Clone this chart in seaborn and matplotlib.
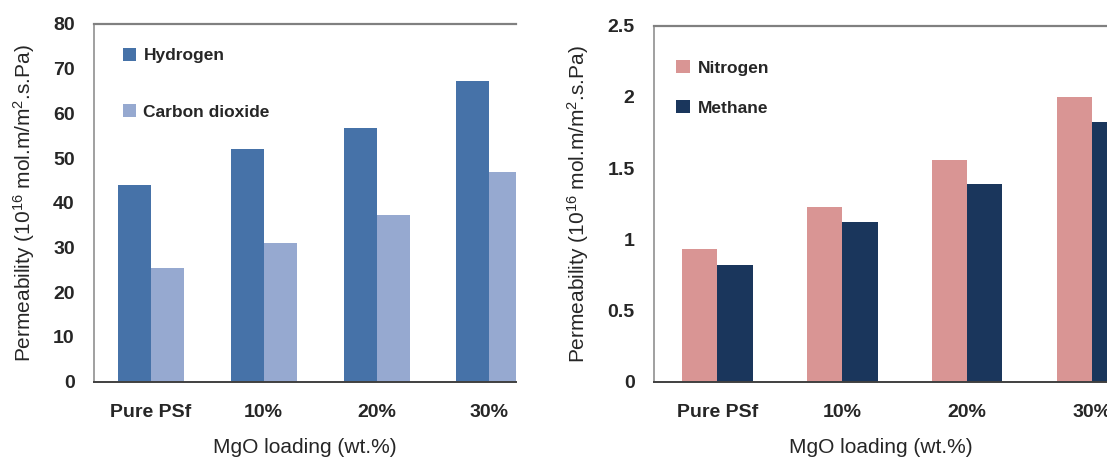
import pandas as pd
import matplotlib
matplotlib.use("Agg")
import matplotlib.pyplot as plt
import seaborn as sns

# data
loadings = ["Pure PSf", "10%", "20%", "30%"]
hydrogen = [44.1, 52.1, 56.7, 67.2]
carbon_dioxide = [25.5, 31.1, 37.3, 47.0]
nitrogen = [0.93, 1.225, 1.555, 2.0]
methane = [0.82, 1.125, 1.39, 1.825]

left_colors = {"Hydrogen": "#4672A8", "Carbon dioxide": "#96A9D0"}
right_colors = {"Nitrogen": "#D99594", "Methane": "#1A365C"}

df_left = pd.DataFrame({
    "loading": loadings * 2,
    "value": hydrogen + carbon_dioxide,
    "gas": ["Hydrogen"] * 4 + ["Carbon dioxide"] * 4,
})
df_right = pd.DataFrame({
    "loading": loadings * 2,
    "value": nitrogen + methane,
    "gas": ["Nitrogen"] * 4 + ["Methane"] * 4,
})

sns.set_style("white")
plt.rcParams["font.family"] = ["Liberation Sans", "DejaVu Sans"]
plt.rcParams["mathtext.fontset"] = "custom"
plt.rcParams["mathtext.rm"] = "Liberation Sans"
plt.rcParams["mathtext.default"] = "regular"

fig = plt.figure(figsize=(11.07, 4.61), dpi=100)
ax1 = fig.add_axes([0.0852, 0.172, 0.3807, 0.776])
ax2 = fig.add_axes([0.5908, 0.172, 0.4092, 0.772])

ylabel = "Permeability (10$^{16}$ mol.m/m$^{2}$.s.Pa)"


def style_axis(ax, ylim, yticks, ticklabels, xlim):
    ax.set_xlim(*xlim)
    ax.set_ylim(*ylim)
    ax.set_yticks(yticks)
    ax.set_yticklabels(ticklabels, fontsize=14, fontweight="bold")
    ax.set_xticks(range(len(loadings)))
    ax.set_xticklabels(loadings, fontsize=14, fontweight="bold")
    ax.tick_params(axis="y", direction="in", length=5, width=1, color="#555555", pad=14)
    ax.tick_params(axis="x", length=0, pad=16)
    ax.set_xlabel("MgO loading (wt.%)", fontsize=15, labelpad=12)
    ax.set_ylabel(ylabel, fontsize=15, labelpad=12)
    ax.spines["right"].set_visible(False)
    ax.spines["top"].set_color("#808080")
    ax.spines["top"].set_linewidth(1.6)
    ax.spines["left"].set_color("#909090")
    ax.spines["left"].set_linewidth(1.2)
    ax.spines["bottom"].set_color("#404040")
    ax.spines["bottom"].set_linewidth(1.4)


sns.barplot(data=df_left, x="loading", y="value", hue="gas", order=loadings,
            palette=left_colors, width=0.585, saturation=1, linewidth=0, ax=ax1)
style_axis(ax1, (0, 80), range(0, 81, 10), [str(v) for v in range(0, 81, 10)], (-0.5, 3.233))
sns.move_legend(ax1, "upper left", bbox_to_anchor=(0.067, 0.934), frameon=False, title=None,
                prop={"weight": "bold", "size": 12.5}, handlelength=0.8,
                handleheight=0.8, handletextpad=0.4, labelspacing=2.35,
                borderaxespad=0, borderpad=0)

sns.barplot(data=df_right, x="loading", y="value", hue="gas", order=loadings,
            palette=right_colors, width=0.566, saturation=1, linewidth=0, ax=ax2)
style_axis(ax2, (0, 2.5), [0, 0.5, 1, 1.5, 2, 2.5], ["0", "0.5", "1", "1.5", "2", "2.5"], (-0.507, 3.12))
sns.move_legend(ax2, "upper left", bbox_to_anchor=(0.048, 0.904), frameon=False, title=None,
                prop={"weight": "bold", "size": 12.5}, handlelength=0.8,
                handleheight=0.8, handletextpad=0.5, labelspacing=1.4,
                borderaxespad=0, borderpad=0)

fig.savefig("out.png", dpi=100)
